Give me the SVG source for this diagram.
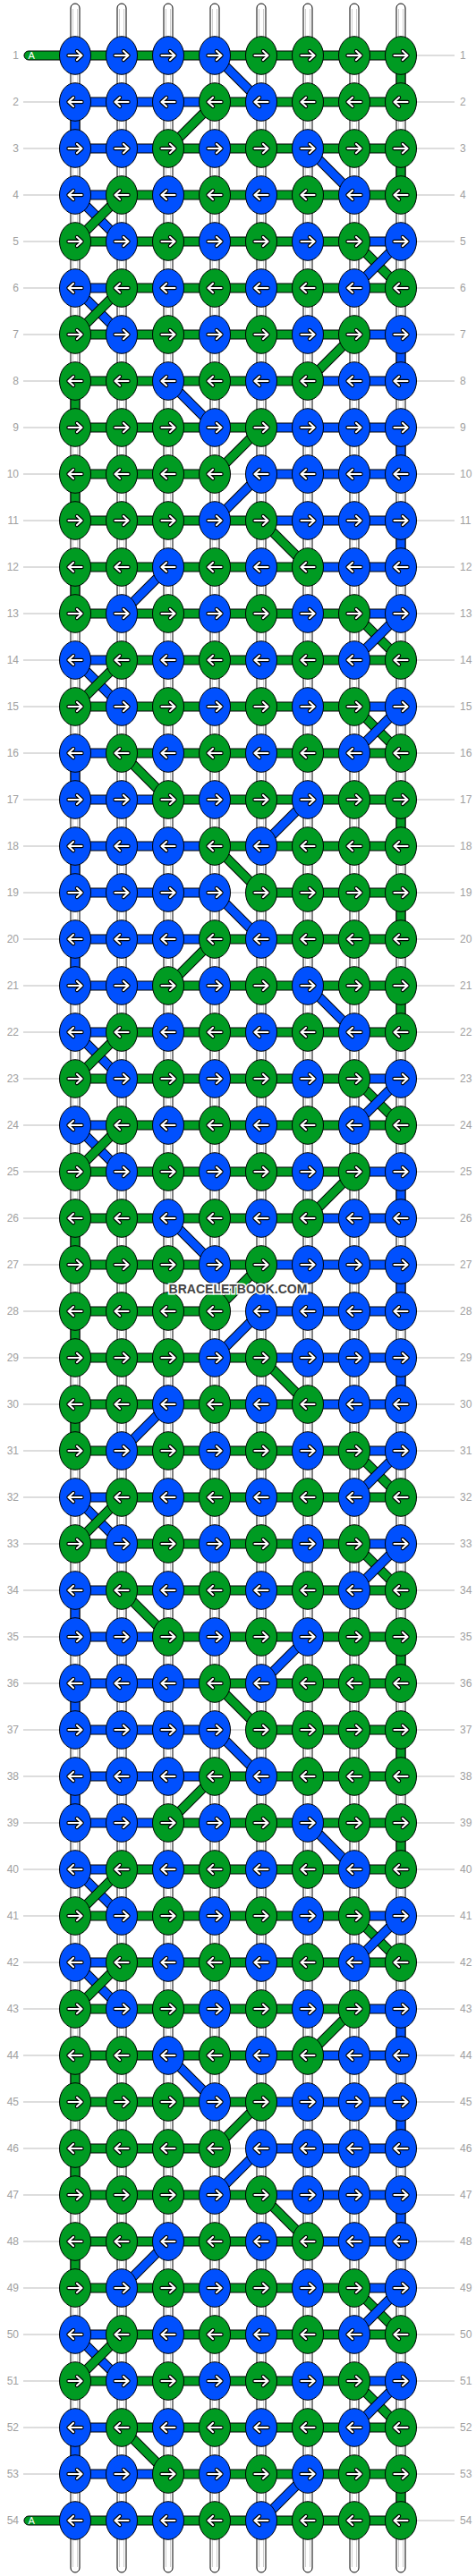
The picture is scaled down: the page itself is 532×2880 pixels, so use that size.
<svg xmlns="http://www.w3.org/2000/svg" xmlns:xlink="http://www.w3.org/1999/xlink" width="532" height="2880" viewBox="0 0 532 2880">
<style>
.rl{stroke:#bbb;stroke-width:1}
.lb{font-family:"Liberation Sans",Arial,sans-serif;font-size:12px;fill:#a0a0a0}
.s{fill:#fff;stroke:#000;stroke-width:1}
.si{stroke:#cfcfcf;stroke-width:1}
.b{fill:#0050fe;stroke:#000;stroke-width:1}
.g{fill:#009b22;stroke:#000;stroke-width:1}
.wm{font-family:"Liberation Sans",Arial,sans-serif;font-size:14px;font-weight:bold;fill:#444;stroke:#fff;stroke-width:3;paint-order:stroke}
</style>
<defs>
<g id="ar" fill="none" stroke-linecap="round" stroke-linejoin="round"><path d="M-7.5 0H7M2-5L7.5 0L2 5" stroke="#000" stroke-width="4.4"/><path d="M-7.5 0H7M2-5L7.5 0L2 5" stroke="#fff" stroke-width="2.2"/></g>
<g id="al"><use href="#ar" transform="scale(-1,1)"/></g>
<g id="BR"><ellipse rx="17.5" ry="21.3" class="b"/><use href="#ar"/></g>
<g id="BL"><ellipse rx="17.5" ry="21.3" class="b"/><use href="#al"/></g>
<g id="GR"><ellipse rx="17.5" ry="21.3" class="g"/><use href="#ar"/></g>
<g id="GL"><ellipse rx="17.5" ry="21.3" class="g"/><use href="#al"/></g>
<rect id="dr" x="0" y="-5" width="73.5" height="10"/>
</defs>
<rect width="532" height="2880" fill="#fff"/>
<g id="rowlines">
<path class="rl" d="M26 62H508M26 114H508M26 166H508M26 218H508M26 270H508M26 322H508M26 374H508M26 426H508M26 478H508M26 530H508M26 582H508M26 634H508M26 686H508M26 738H508M26 790H508M26 842H508M26 894H508M26 946H508M26 998H508M26 1050H508M26 1102H508M26 1154H508M26 1206H508M26 1258H508M26 1310H508M26 1362H508M26 1414H508M26 1466H508M26 1518H508M26 1570H508M26 1622H508M26 1674H508M26 1726H508M26 1778H508M26 1830H508M26 1882H508M26 1934H508M26 1986H508M26 2038H508M26 2090H508M26 2142H508M26 2194H508M26 2246H508M26 2298H508M26 2350H508M26 2402H508M26 2454H508M26 2506H508M26 2558H508M26 2610H508M26 2662H508M26 2714H508M26 2766H508M26 2818H508"/>
</g>
<g id="labels" class="lb">
<g text-anchor="end">
<text x="21" y="66.3">1</text><text x="21" y="118.3">2</text><text x="21" y="170.3">3</text><text x="21" y="222.3">4</text><text x="21" y="274.3">5</text><text x="21" y="326.3">6</text><text x="21" y="378.3">7</text><text x="21" y="430.3">8</text><text x="21" y="482.3">9</text><text x="21" y="534.3">10</text><text x="21" y="586.3">11</text><text x="21" y="638.3">12</text><text x="21" y="690.3">13</text><text x="21" y="742.3">14</text><text x="21" y="794.3">15</text><text x="21" y="846.3">16</text><text x="21" y="898.3">17</text><text x="21" y="950.3">18</text><text x="21" y="1002.3">19</text><text x="21" y="1054.3">20</text><text x="21" y="1106.3">21</text><text x="21" y="1158.3">22</text><text x="21" y="1210.3">23</text><text x="21" y="1262.3">24</text><text x="21" y="1314.3">25</text><text x="21" y="1366.3">26</text><text x="21" y="1418.3">27</text><text x="21" y="1470.3">28</text><text x="21" y="1522.3">29</text><text x="21" y="1574.3">30</text><text x="21" y="1626.3">31</text><text x="21" y="1678.3">32</text><text x="21" y="1730.3">33</text><text x="21" y="1782.3">34</text><text x="21" y="1834.3">35</text><text x="21" y="1886.3">36</text><text x="21" y="1938.3">37</text><text x="21" y="1990.3">38</text><text x="21" y="2042.3">39</text><text x="21" y="2094.3">40</text><text x="21" y="2146.3">41</text><text x="21" y="2198.3">42</text><text x="21" y="2250.3">43</text><text x="21" y="2302.3">44</text><text x="21" y="2354.3">45</text><text x="21" y="2406.3">46</text><text x="21" y="2458.3">47</text><text x="21" y="2510.3">48</text><text x="21" y="2562.3">49</text><text x="21" y="2614.3">50</text><text x="21" y="2666.3">51</text><text x="21" y="2718.3">52</text><text x="21" y="2770.3">53</text><text x="21" y="2822.3">54</text>
</g>
<g>
<text x="514" y="66.3">1</text><text x="514" y="118.3">2</text><text x="514" y="170.3">3</text><text x="514" y="222.3">4</text><text x="514" y="274.3">5</text><text x="514" y="326.3">6</text><text x="514" y="378.3">7</text><text x="514" y="430.3">8</text><text x="514" y="482.3">9</text><text x="514" y="534.3">10</text><text x="514" y="586.3">11</text><text x="514" y="638.3">12</text><text x="514" y="690.3">13</text><text x="514" y="742.3">14</text><text x="514" y="794.3">15</text><text x="514" y="846.3">16</text><text x="514" y="898.3">17</text><text x="514" y="950.3">18</text><text x="514" y="1002.3">19</text><text x="514" y="1054.3">20</text><text x="514" y="1106.3">21</text><text x="514" y="1158.3">22</text><text x="514" y="1210.3">23</text><text x="514" y="1262.3">24</text><text x="514" y="1314.3">25</text><text x="514" y="1366.3">26</text><text x="514" y="1418.3">27</text><text x="514" y="1470.3">28</text><text x="514" y="1522.3">29</text><text x="514" y="1574.3">30</text><text x="514" y="1626.3">31</text><text x="514" y="1678.3">32</text><text x="514" y="1730.3">33</text><text x="514" y="1782.3">34</text><text x="514" y="1834.3">35</text><text x="514" y="1886.3">36</text><text x="514" y="1938.3">37</text><text x="514" y="1990.3">38</text><text x="514" y="2042.3">39</text><text x="514" y="2094.3">40</text><text x="514" y="2146.3">41</text><text x="514" y="2198.3">42</text><text x="514" y="2250.3">43</text><text x="514" y="2302.3">44</text><text x="514" y="2354.3">45</text><text x="514" y="2406.3">46</text><text x="514" y="2458.3">47</text><text x="514" y="2510.3">48</text><text x="514" y="2562.3">49</text><text x="514" y="2614.3">50</text><text x="514" y="2666.3">51</text><text x="514" y="2718.3">52</text><text x="514" y="2770.3">53</text><text x="514" y="2822.3">54</text>
</g>
</g>
<g id="strings">
<rect class="s" x="79" y="4" width="10" height="2872" rx="5"/>
<rect class="s" x="131" y="4" width="10" height="2872" rx="5"/>
<rect class="s" x="183" y="4" width="10" height="2872" rx="5"/>
<rect class="s" x="235" y="4" width="10" height="2872" rx="5"/>
<rect class="s" x="287" y="4" width="10" height="2872" rx="5"/>
<rect class="s" x="339" y="4" width="10" height="2872" rx="5"/>
<rect class="s" x="391" y="4" width="10" height="2872" rx="5"/>
<rect class="s" x="443" y="4" width="10" height="2872" rx="5"/>
<path class="si" d="M81.5 10V2870M86.5 10V2870M133.5 10V2870M138.5 10V2870M185.5 10V2870M190.5 10V2870M237.5 10V2870M242.5 10V2870M289.5 10V2870M294.5 10V2870M341.5 10V2870M346.5 10V2870M393.5 10V2870M398.5 10V2870M445.5 10V2870M450.5 10V2870"/>
</g>
<g id="connectors">
<g id="horizontal">
<rect class="g" x="27" y="57" width="60" height="10" rx="5"/>
<rect class="g" x="84" y="57" width="364" height="10"/>
<rect class="b" x="84" y="109" width="156" height="10"/><rect class="g" x="240" y="109" width="208" height="10"/>
<rect class="b" x="84" y="161" width="104" height="10"/><rect class="g" x="188" y="161" width="260" height="10"/>
<rect class="b" x="84" y="213" width="52" height="10"/><rect class="g" x="136" y="213" width="312" height="10"/>
<rect class="g" x="84" y="265" width="312" height="10"/><rect class="b" x="396" y="265" width="52" height="10"/>
<rect class="b" x="84" y="317" width="52" height="10"/><rect class="g" x="136" y="317" width="312" height="10"/>
<rect class="g" x="84" y="369" width="312" height="10"/><rect class="b" x="396" y="369" width="52" height="10"/>
<rect class="g" x="84" y="421" width="260" height="10"/><rect class="b" x="344" y="421" width="104" height="10"/>
<rect class="g" x="84" y="473" width="208" height="10"/><rect class="b" x="292" y="473" width="156" height="10"/>
<rect class="g" x="84" y="525" width="156" height="10"/><rect class="b" x="292" y="525" width="156" height="10"/>
<rect class="g" x="84" y="577" width="208" height="10"/><rect class="b" x="292" y="577" width="156" height="10"/>
<rect class="g" x="84" y="629" width="260" height="10"/><rect class="b" x="344" y="629" width="104" height="10"/>
<rect class="g" x="84" y="681" width="312" height="10"/><rect class="b" x="396" y="681" width="52" height="10"/>
<rect class="b" x="84" y="733" width="52" height="10"/><rect class="g" x="136" y="733" width="312" height="10"/>
<rect class="g" x="84" y="785" width="312" height="10"/><rect class="b" x="396" y="785" width="52" height="10"/>
<rect class="b" x="84" y="837" width="52" height="10"/><rect class="g" x="136" y="837" width="312" height="10"/>
<rect class="b" x="84" y="889" width="104" height="10"/><rect class="g" x="188" y="889" width="260" height="10"/>
<rect class="b" x="84" y="941" width="156" height="10"/><rect class="g" x="240" y="941" width="208" height="10"/>
<rect class="b" x="84" y="993" width="156" height="10"/><rect class="g" x="292" y="993" width="156" height="10"/>
<rect class="b" x="84" y="1045" width="156" height="10"/><rect class="g" x="240" y="1045" width="208" height="10"/>
<rect class="b" x="84" y="1097" width="104" height="10"/><rect class="g" x="188" y="1097" width="260" height="10"/>
<rect class="b" x="84" y="1149" width="52" height="10"/><rect class="g" x="136" y="1149" width="312" height="10"/>
<rect class="g" x="84" y="1201" width="312" height="10"/><rect class="b" x="396" y="1201" width="52" height="10"/>
<rect class="b" x="84" y="1253" width="52" height="10"/><rect class="g" x="136" y="1253" width="312" height="10"/>
<rect class="g" x="84" y="1305" width="312" height="10"/><rect class="b" x="396" y="1305" width="52" height="10"/>
<rect class="g" x="84" y="1357" width="260" height="10"/><rect class="b" x="344" y="1357" width="104" height="10"/>
<rect class="g" x="84" y="1409" width="208" height="10"/><rect class="b" x="292" y="1409" width="156" height="10"/>
<rect class="g" x="84" y="1461" width="156" height="10"/><rect class="b" x="292" y="1461" width="156" height="10"/>
<rect class="g" x="84" y="1513" width="208" height="10"/><rect class="b" x="292" y="1513" width="156" height="10"/>
<rect class="g" x="84" y="1565" width="260" height="10"/><rect class="b" x="344" y="1565" width="104" height="10"/>
<rect class="g" x="84" y="1617" width="312" height="10"/><rect class="b" x="396" y="1617" width="52" height="10"/>
<rect class="b" x="84" y="1669" width="52" height="10"/><rect class="g" x="136" y="1669" width="312" height="10"/>
<rect class="g" x="84" y="1721" width="312" height="10"/><rect class="b" x="396" y="1721" width="52" height="10"/>
<rect class="b" x="84" y="1773" width="52" height="10"/><rect class="g" x="136" y="1773" width="312" height="10"/>
<rect class="b" x="84" y="1825" width="104" height="10"/><rect class="g" x="188" y="1825" width="260" height="10"/>
<rect class="b" x="84" y="1877" width="156" height="10"/><rect class="g" x="240" y="1877" width="208" height="10"/>
<rect class="b" x="84" y="1929" width="156" height="10"/><rect class="g" x="292" y="1929" width="156" height="10"/>
<rect class="b" x="84" y="1981" width="156" height="10"/><rect class="g" x="240" y="1981" width="208" height="10"/>
<rect class="b" x="84" y="2033" width="104" height="10"/><rect class="g" x="188" y="2033" width="260" height="10"/>
<rect class="b" x="84" y="2085" width="52" height="10"/><rect class="g" x="136" y="2085" width="312" height="10"/>
<rect class="g" x="84" y="2137" width="312" height="10"/><rect class="b" x="396" y="2137" width="52" height="10"/>
<rect class="b" x="84" y="2189" width="52" height="10"/><rect class="g" x="136" y="2189" width="312" height="10"/>
<rect class="g" x="84" y="2241" width="312" height="10"/><rect class="b" x="396" y="2241" width="52" height="10"/>
<rect class="g" x="84" y="2293" width="260" height="10"/><rect class="b" x="344" y="2293" width="104" height="10"/>
<rect class="g" x="84" y="2345" width="208" height="10"/><rect class="b" x="292" y="2345" width="156" height="10"/>
<rect class="g" x="84" y="2397" width="156" height="10"/><rect class="b" x="292" y="2397" width="156" height="10"/>
<rect class="g" x="84" y="2449" width="208" height="10"/><rect class="b" x="292" y="2449" width="156" height="10"/>
<rect class="g" x="84" y="2501" width="260" height="10"/><rect class="b" x="344" y="2501" width="104" height="10"/>
<rect class="g" x="84" y="2553" width="312" height="10"/><rect class="b" x="396" y="2553" width="52" height="10"/>
<rect class="b" x="84" y="2605" width="52" height="10"/><rect class="g" x="136" y="2605" width="312" height="10"/>
<rect class="g" x="84" y="2657" width="312" height="10"/><rect class="b" x="396" y="2657" width="52" height="10"/>
<rect class="b" x="84" y="2709" width="52" height="10"/><rect class="g" x="136" y="2709" width="312" height="10"/>
<rect class="b" x="84" y="2761" width="104" height="10"/><rect class="g" x="188" y="2761" width="260" height="10"/>
<rect class="g" x="27" y="2813" width="60" height="10" rx="5"/>
<rect class="g" x="84" y="2813" width="364" height="10"/>
</g>
<g id="vertical">
<rect class="g" x="443" y="62" width="10" height="52"/>
<rect class="b" x="79" y="114" width="10" height="52"/>
<rect class="g" x="443" y="166" width="10" height="52"/>
<rect class="b" x="443" y="374" width="10" height="52"/>
<rect class="g" x="79" y="426" width="10" height="52"/>
<rect class="b" x="443" y="478" width="10" height="52"/>
<rect class="g" x="79" y="530" width="10" height="52"/>
<rect class="b" x="443" y="582" width="10" height="52"/>
<rect class="g" x="79" y="634" width="10" height="52"/>
<rect class="b" x="79" y="842" width="10" height="52"/>
<rect class="g" x="443" y="894" width="10" height="52"/>
<rect class="b" x="79" y="946" width="10" height="52"/>
<rect class="g" x="443" y="998" width="10" height="52"/>
<rect class="b" x="79" y="1050" width="10" height="52"/>
<rect class="g" x="443" y="1102" width="10" height="52"/>
<rect class="b" x="443" y="1310" width="10" height="52"/>
<rect class="g" x="79" y="1362" width="10" height="52"/>
<rect class="b" x="443" y="1414" width="10" height="52"/>
<rect class="g" x="79" y="1466" width="10" height="52"/>
<rect class="b" x="443" y="1518" width="10" height="52"/>
<rect class="g" x="79" y="1570" width="10" height="52"/>
<rect class="b" x="79" y="1778" width="10" height="52"/>
<rect class="g" x="443" y="1830" width="10" height="52"/>
<rect class="b" x="79" y="1882" width="10" height="52"/>
<rect class="g" x="443" y="1934" width="10" height="52"/>
<rect class="b" x="79" y="1986" width="10" height="52"/>
<rect class="g" x="443" y="2038" width="10" height="52"/>
<rect class="b" x="443" y="2246" width="10" height="52"/>
<rect class="g" x="79" y="2298" width="10" height="52"/>
<rect class="b" x="443" y="2350" width="10" height="52"/>
<rect class="g" x="79" y="2402" width="10" height="52"/>
<rect class="b" x="443" y="2454" width="10" height="52"/>
<rect class="g" x="79" y="2506" width="10" height="52"/>
<rect class="b" x="79" y="2714" width="10" height="52"/>
<rect class="g" x="443" y="2766" width="10" height="52"/>
</g>
<g id="diagonals">
<use href="#dr" class="b" transform="translate(240,62) rotate(45)"/>
<use href="#dr" class="g" transform="translate(240,114) rotate(135)"/>
<use href="#dr" class="b" transform="translate(344,166) rotate(45)"/>
<use href="#dr" class="b" transform="translate(84,218) rotate(45)"/><use href="#dr" class="g" transform="translate(136,218) rotate(135)"/>
<use href="#dr" class="g" transform="translate(396,270) rotate(45)"/><use href="#dr" class="b" transform="translate(448,270) rotate(135)"/>
<use href="#dr" class="b" transform="translate(84,322) rotate(45)"/><use href="#dr" class="g" transform="translate(136,322) rotate(135)"/>
<use href="#dr" class="g" transform="translate(396,374) rotate(135)"/>
<use href="#dr" class="b" transform="translate(188,426) rotate(45)"/>
<use href="#dr" class="g" transform="translate(292,478) rotate(135)"/>
<use href="#dr" class="b" transform="translate(292,530) rotate(135)"/>
<use href="#dr" class="g" transform="translate(292,582) rotate(45)"/>
<use href="#dr" class="b" transform="translate(188,634) rotate(135)"/>
<use href="#dr" class="g" transform="translate(396,686) rotate(45)"/><use href="#dr" class="b" transform="translate(448,686) rotate(135)"/>
<use href="#dr" class="b" transform="translate(84,738) rotate(45)"/><use href="#dr" class="g" transform="translate(136,738) rotate(135)"/>
<use href="#dr" class="g" transform="translate(396,790) rotate(45)"/><use href="#dr" class="b" transform="translate(448,790) rotate(135)"/>
<use href="#dr" class="g" transform="translate(136,842) rotate(45)"/>
<use href="#dr" class="b" transform="translate(344,894) rotate(135)"/>
<use href="#dr" class="g" transform="translate(240,946) rotate(45)"/>
<use href="#dr" class="b" transform="translate(240,998) rotate(45)"/>
<use href="#dr" class="g" transform="translate(240,1050) rotate(135)"/>
<use href="#dr" class="b" transform="translate(344,1102) rotate(45)"/>
<use href="#dr" class="b" transform="translate(84,1154) rotate(45)"/><use href="#dr" class="g" transform="translate(136,1154) rotate(135)"/>
<use href="#dr" class="g" transform="translate(396,1206) rotate(45)"/><use href="#dr" class="b" transform="translate(448,1206) rotate(135)"/>
<use href="#dr" class="b" transform="translate(84,1258) rotate(45)"/><use href="#dr" class="g" transform="translate(136,1258) rotate(135)"/>
<use href="#dr" class="g" transform="translate(396,1310) rotate(135)"/>
<use href="#dr" class="b" transform="translate(188,1362) rotate(45)"/>
<use href="#dr" class="g" transform="translate(292,1414) rotate(135)"/>
<use href="#dr" class="b" transform="translate(292,1466) rotate(135)"/>
<use href="#dr" class="g" transform="translate(292,1518) rotate(45)"/>
<use href="#dr" class="b" transform="translate(188,1570) rotate(135)"/>
<use href="#dr" class="g" transform="translate(396,1622) rotate(45)"/><use href="#dr" class="b" transform="translate(448,1622) rotate(135)"/>
<use href="#dr" class="b" transform="translate(84,1674) rotate(45)"/><use href="#dr" class="g" transform="translate(136,1674) rotate(135)"/>
<use href="#dr" class="g" transform="translate(396,1726) rotate(45)"/><use href="#dr" class="b" transform="translate(448,1726) rotate(135)"/>
<use href="#dr" class="g" transform="translate(136,1778) rotate(45)"/>
<use href="#dr" class="b" transform="translate(344,1830) rotate(135)"/>
<use href="#dr" class="g" transform="translate(240,1882) rotate(45)"/>
<use href="#dr" class="b" transform="translate(240,1934) rotate(45)"/>
<use href="#dr" class="g" transform="translate(240,1986) rotate(135)"/>
<use href="#dr" class="b" transform="translate(344,2038) rotate(45)"/>
<use href="#dr" class="b" transform="translate(84,2090) rotate(45)"/><use href="#dr" class="g" transform="translate(136,2090) rotate(135)"/>
<use href="#dr" class="g" transform="translate(396,2142) rotate(45)"/><use href="#dr" class="b" transform="translate(448,2142) rotate(135)"/>
<use href="#dr" class="b" transform="translate(84,2194) rotate(45)"/><use href="#dr" class="g" transform="translate(136,2194) rotate(135)"/>
<use href="#dr" class="g" transform="translate(396,2246) rotate(135)"/>
<use href="#dr" class="b" transform="translate(188,2298) rotate(45)"/>
<use href="#dr" class="g" transform="translate(292,2350) rotate(135)"/>
<use href="#dr" class="b" transform="translate(292,2402) rotate(135)"/>
<use href="#dr" class="g" transform="translate(292,2454) rotate(45)"/>
<use href="#dr" class="b" transform="translate(188,2506) rotate(135)"/>
<use href="#dr" class="g" transform="translate(396,2558) rotate(45)"/><use href="#dr" class="b" transform="translate(448,2558) rotate(135)"/>
<use href="#dr" class="b" transform="translate(84,2610) rotate(45)"/><use href="#dr" class="g" transform="translate(136,2610) rotate(135)"/>
<use href="#dr" class="g" transform="translate(396,2662) rotate(45)"/><use href="#dr" class="b" transform="translate(448,2662) rotate(135)"/>
<use href="#dr" class="g" transform="translate(136,2714) rotate(45)"/>
<use href="#dr" class="b" transform="translate(344,2766) rotate(135)"/>
</g>
</g>
<g id="knots">
<g transform="translate(0,62)"><g id="k1-1"><use href="#BR" x="84"/></g><g id="k1-2"><use href="#BR" x="136"/></g><g id="k1-3"><use href="#BR" x="188"/></g><g id="k1-4"><use href="#BR" x="240"/></g><g id="k1-5"><use href="#GR" x="292"/></g><g id="k1-6"><use href="#GR" x="344"/></g><g id="k1-7"><use href="#GR" x="396"/></g><g id="k1-8"><use href="#GR" x="448"/></g></g>
<g transform="translate(0,114)"><g id="k2-1"><use href="#BL" x="84"/></g><g id="k2-2"><use href="#BL" x="136"/></g><g id="k2-3"><use href="#BL" x="188"/></g><g id="k2-4"><use href="#GL" x="240"/></g><g id="k2-5"><use href="#BL" x="292"/></g><g id="k2-6"><use href="#GL" x="344"/></g><g id="k2-7"><use href="#GL" x="396"/></g><g id="k2-8"><use href="#GL" x="448"/></g></g>
<g transform="translate(0,166)"><g id="k3-1"><use href="#BR" x="84"/></g><g id="k3-2"><use href="#BR" x="136"/></g><g id="k3-3"><use href="#GR" x="188"/></g><g id="k3-4"><use href="#BR" x="240"/></g><g id="k3-5"><use href="#GR" x="292"/></g><g id="k3-6"><use href="#BR" x="344"/></g><g id="k3-7"><use href="#GR" x="396"/></g><g id="k3-8"><use href="#GR" x="448"/></g></g>
<g transform="translate(0,218)"><g id="k4-1"><use href="#BL" x="84"/></g><g id="k4-2"><use href="#GL" x="136"/></g><g id="k4-3"><use href="#BL" x="188"/></g><g id="k4-4"><use href="#GL" x="240"/></g><g id="k4-5"><use href="#BL" x="292"/></g><g id="k4-6"><use href="#GL" x="344"/></g><g id="k4-7"><use href="#BL" x="396"/></g><g id="k4-8"><use href="#GL" x="448"/></g></g>
<g transform="translate(0,270)"><g id="k5-1"><use href="#GR" x="84"/></g><g id="k5-2"><use href="#BR" x="136"/></g><g id="k5-3"><use href="#GR" x="188"/></g><g id="k5-4"><use href="#BR" x="240"/></g><g id="k5-5"><use href="#GR" x="292"/></g><g id="k5-6"><use href="#BR" x="344"/></g><g id="k5-7"><use href="#GR" x="396"/></g><g id="k5-8"><use href="#BR" x="448"/></g></g>
<g transform="translate(0,322)"><g id="k6-1"><use href="#BL" x="84"/></g><g id="k6-2"><use href="#GL" x="136"/></g><g id="k6-3"><use href="#BL" x="188"/></g><g id="k6-4"><use href="#GL" x="240"/></g><g id="k6-5"><use href="#BL" x="292"/></g><g id="k6-6"><use href="#GL" x="344"/></g><g id="k6-7"><use href="#BL" x="396"/></g><g id="k6-8"><use href="#GL" x="448"/></g></g>
<g transform="translate(0,374)"><g id="k7-1"><use href="#GR" x="84"/></g><g id="k7-2"><use href="#BR" x="136"/></g><g id="k7-3"><use href="#GR" x="188"/></g><g id="k7-4"><use href="#BR" x="240"/></g><g id="k7-5"><use href="#GR" x="292"/></g><g id="k7-6"><use href="#BR" x="344"/></g><g id="k7-7"><use href="#GR" x="396"/></g><g id="k7-8"><use href="#BR" x="448"/></g></g>
<g transform="translate(0,426)"><g id="k8-1"><use href="#GL" x="84"/></g><g id="k8-2"><use href="#GL" x="136"/></g><g id="k8-3"><use href="#BL" x="188"/></g><g id="k8-4"><use href="#GL" x="240"/></g><g id="k8-5"><use href="#BL" x="292"/></g><g id="k8-6"><use href="#GL" x="344"/></g><g id="k8-7"><use href="#BL" x="396"/></g><g id="k8-8"><use href="#BL" x="448"/></g></g>
<g transform="translate(0,478)"><g id="k9-1"><use href="#GR" x="84"/></g><g id="k9-2"><use href="#GR" x="136"/></g><g id="k9-3"><use href="#GR" x="188"/></g><g id="k9-4"><use href="#BR" x="240"/></g><g id="k9-5"><use href="#GR" x="292"/></g><g id="k9-6"><use href="#BR" x="344"/></g><g id="k9-7"><use href="#BR" x="396"/></g><g id="k9-8"><use href="#BR" x="448"/></g></g>
<g transform="translate(0,530)"><g id="k10-1"><use href="#GL" x="84"/></g><g id="k10-2"><use href="#GL" x="136"/></g><g id="k10-3"><use href="#GL" x="188"/></g><g id="k10-4"><use href="#GL" x="240"/></g><g id="k10-5"><use href="#BL" x="292"/></g><g id="k10-6"><use href="#BL" x="344"/></g><g id="k10-7"><use href="#BL" x="396"/></g><g id="k10-8"><use href="#BL" x="448"/></g></g>
<g transform="translate(0,582)"><g id="k11-1"><use href="#GR" x="84"/></g><g id="k11-2"><use href="#GR" x="136"/></g><g id="k11-3"><use href="#GR" x="188"/></g><g id="k11-4"><use href="#BR" x="240"/></g><g id="k11-5"><use href="#GR" x="292"/></g><g id="k11-6"><use href="#BR" x="344"/></g><g id="k11-7"><use href="#BR" x="396"/></g><g id="k11-8"><use href="#BR" x="448"/></g></g>
<g transform="translate(0,634)"><g id="k12-1"><use href="#GL" x="84"/></g><g id="k12-2"><use href="#GL" x="136"/></g><g id="k12-3"><use href="#BL" x="188"/></g><g id="k12-4"><use href="#GL" x="240"/></g><g id="k12-5"><use href="#BL" x="292"/></g><g id="k12-6"><use href="#GL" x="344"/></g><g id="k12-7"><use href="#BL" x="396"/></g><g id="k12-8"><use href="#BL" x="448"/></g></g>
<g transform="translate(0,686)"><g id="k13-1"><use href="#GR" x="84"/></g><g id="k13-2"><use href="#BR" x="136"/></g><g id="k13-3"><use href="#GR" x="188"/></g><g id="k13-4"><use href="#BR" x="240"/></g><g id="k13-5"><use href="#GR" x="292"/></g><g id="k13-6"><use href="#BR" x="344"/></g><g id="k13-7"><use href="#GR" x="396"/></g><g id="k13-8"><use href="#BR" x="448"/></g></g>
<g transform="translate(0,738)"><g id="k14-1"><use href="#BL" x="84"/></g><g id="k14-2"><use href="#GL" x="136"/></g><g id="k14-3"><use href="#BL" x="188"/></g><g id="k14-4"><use href="#GL" x="240"/></g><g id="k14-5"><use href="#BL" x="292"/></g><g id="k14-6"><use href="#GL" x="344"/></g><g id="k14-7"><use href="#BL" x="396"/></g><g id="k14-8"><use href="#GL" x="448"/></g></g>
<g transform="translate(0,790)"><g id="k15-1"><use href="#GR" x="84"/></g><g id="k15-2"><use href="#BR" x="136"/></g><g id="k15-3"><use href="#GR" x="188"/></g><g id="k15-4"><use href="#BR" x="240"/></g><g id="k15-5"><use href="#GR" x="292"/></g><g id="k15-6"><use href="#BR" x="344"/></g><g id="k15-7"><use href="#GR" x="396"/></g><g id="k15-8"><use href="#BR" x="448"/></g></g>
<g transform="translate(0,842)"><g id="k16-1"><use href="#BL" x="84"/></g><g id="k16-2"><use href="#GL" x="136"/></g><g id="k16-3"><use href="#BL" x="188"/></g><g id="k16-4"><use href="#GL" x="240"/></g><g id="k16-5"><use href="#BL" x="292"/></g><g id="k16-6"><use href="#GL" x="344"/></g><g id="k16-7"><use href="#BL" x="396"/></g><g id="k16-8"><use href="#GL" x="448"/></g></g>
<g transform="translate(0,894)"><g id="k17-1"><use href="#BR" x="84"/></g><g id="k17-2"><use href="#BR" x="136"/></g><g id="k17-3"><use href="#GR" x="188"/></g><g id="k17-4"><use href="#BR" x="240"/></g><g id="k17-5"><use href="#GR" x="292"/></g><g id="k17-6"><use href="#BR" x="344"/></g><g id="k17-7"><use href="#GR" x="396"/></g><g id="k17-8"><use href="#GR" x="448"/></g></g>
<g transform="translate(0,946)"><g id="k18-1"><use href="#BL" x="84"/></g><g id="k18-2"><use href="#BL" x="136"/></g><g id="k18-3"><use href="#BL" x="188"/></g><g id="k18-4"><use href="#GL" x="240"/></g><g id="k18-5"><use href="#BL" x="292"/></g><g id="k18-6"><use href="#GL" x="344"/></g><g id="k18-7"><use href="#GL" x="396"/></g><g id="k18-8"><use href="#GL" x="448"/></g></g>
<g transform="translate(0,998)"><g id="k19-1"><use href="#BR" x="84"/></g><g id="k19-2"><use href="#BR" x="136"/></g><g id="k19-3"><use href="#BR" x="188"/></g><g id="k19-4"><use href="#BR" x="240"/></g><g id="k19-5"><use href="#GR" x="292"/></g><g id="k19-6"><use href="#GR" x="344"/></g><g id="k19-7"><use href="#GR" x="396"/></g><g id="k19-8"><use href="#GR" x="448"/></g></g>
<g transform="translate(0,1050)"><g id="k20-1"><use href="#BL" x="84"/></g><g id="k20-2"><use href="#BL" x="136"/></g><g id="k20-3"><use href="#BL" x="188"/></g><g id="k20-4"><use href="#GL" x="240"/></g><g id="k20-5"><use href="#BL" x="292"/></g><g id="k20-6"><use href="#GL" x="344"/></g><g id="k20-7"><use href="#GL" x="396"/></g><g id="k20-8"><use href="#GL" x="448"/></g></g>
<g transform="translate(0,1102)"><g id="k21-1"><use href="#BR" x="84"/></g><g id="k21-2"><use href="#BR" x="136"/></g><g id="k21-3"><use href="#GR" x="188"/></g><g id="k21-4"><use href="#BR" x="240"/></g><g id="k21-5"><use href="#GR" x="292"/></g><g id="k21-6"><use href="#BR" x="344"/></g><g id="k21-7"><use href="#GR" x="396"/></g><g id="k21-8"><use href="#GR" x="448"/></g></g>
<g transform="translate(0,1154)"><g id="k22-1"><use href="#BL" x="84"/></g><g id="k22-2"><use href="#GL" x="136"/></g><g id="k22-3"><use href="#BL" x="188"/></g><g id="k22-4"><use href="#GL" x="240"/></g><g id="k22-5"><use href="#BL" x="292"/></g><g id="k22-6"><use href="#GL" x="344"/></g><g id="k22-7"><use href="#BL" x="396"/></g><g id="k22-8"><use href="#GL" x="448"/></g></g>
<g transform="translate(0,1206)"><g id="k23-1"><use href="#GR" x="84"/></g><g id="k23-2"><use href="#BR" x="136"/></g><g id="k23-3"><use href="#GR" x="188"/></g><g id="k23-4"><use href="#BR" x="240"/></g><g id="k23-5"><use href="#GR" x="292"/></g><g id="k23-6"><use href="#BR" x="344"/></g><g id="k23-7"><use href="#GR" x="396"/></g><g id="k23-8"><use href="#BR" x="448"/></g></g>
<g transform="translate(0,1258)"><g id="k24-1"><use href="#BL" x="84"/></g><g id="k24-2"><use href="#GL" x="136"/></g><g id="k24-3"><use href="#BL" x="188"/></g><g id="k24-4"><use href="#GL" x="240"/></g><g id="k24-5"><use href="#BL" x="292"/></g><g id="k24-6"><use href="#GL" x="344"/></g><g id="k24-7"><use href="#BL" x="396"/></g><g id="k24-8"><use href="#GL" x="448"/></g></g>
<g transform="translate(0,1310)"><g id="k25-1"><use href="#GR" x="84"/></g><g id="k25-2"><use href="#BR" x="136"/></g><g id="k25-3"><use href="#GR" x="188"/></g><g id="k25-4"><use href="#BR" x="240"/></g><g id="k25-5"><use href="#GR" x="292"/></g><g id="k25-6"><use href="#BR" x="344"/></g><g id="k25-7"><use href="#GR" x="396"/></g><g id="k25-8"><use href="#BR" x="448"/></g></g>
<g transform="translate(0,1362)"><g id="k26-1"><use href="#GL" x="84"/></g><g id="k26-2"><use href="#GL" x="136"/></g><g id="k26-3"><use href="#BL" x="188"/></g><g id="k26-4"><use href="#GL" x="240"/></g><g id="k26-5"><use href="#BL" x="292"/></g><g id="k26-6"><use href="#GL" x="344"/></g><g id="k26-7"><use href="#BL" x="396"/></g><g id="k26-8"><use href="#BL" x="448"/></g></g>
<g transform="translate(0,1414)"><g id="k27-1"><use href="#GR" x="84"/></g><g id="k27-2"><use href="#GR" x="136"/></g><g id="k27-3"><use href="#GR" x="188"/></g><g id="k27-4"><use href="#BR" x="240"/></g><g id="k27-5"><use href="#GR" x="292"/></g><g id="k27-6"><use href="#BR" x="344"/></g><g id="k27-7"><use href="#BR" x="396"/></g><g id="k27-8"><use href="#BR" x="448"/></g></g>
<g transform="translate(0,1466)"><g id="k28-1"><use href="#GL" x="84"/></g><g id="k28-2"><use href="#GL" x="136"/></g><g id="k28-3"><use href="#GL" x="188"/></g><g id="k28-4"><use href="#GL" x="240"/></g><g id="k28-5"><use href="#BL" x="292"/></g><g id="k28-6"><use href="#BL" x="344"/></g><g id="k28-7"><use href="#BL" x="396"/></g><g id="k28-8"><use href="#BL" x="448"/></g></g>
<g transform="translate(0,1518)"><g id="k29-1"><use href="#GR" x="84"/></g><g id="k29-2"><use href="#GR" x="136"/></g><g id="k29-3"><use href="#GR" x="188"/></g><g id="k29-4"><use href="#BR" x="240"/></g><g id="k29-5"><use href="#GR" x="292"/></g><g id="k29-6"><use href="#BR" x="344"/></g><g id="k29-7"><use href="#BR" x="396"/></g><g id="k29-8"><use href="#BR" x="448"/></g></g>
<g transform="translate(0,1570)"><g id="k30-1"><use href="#GL" x="84"/></g><g id="k30-2"><use href="#GL" x="136"/></g><g id="k30-3"><use href="#BL" x="188"/></g><g id="k30-4"><use href="#GL" x="240"/></g><g id="k30-5"><use href="#BL" x="292"/></g><g id="k30-6"><use href="#GL" x="344"/></g><g id="k30-7"><use href="#BL" x="396"/></g><g id="k30-8"><use href="#BL" x="448"/></g></g>
<g transform="translate(0,1622)"><g id="k31-1"><use href="#GR" x="84"/></g><g id="k31-2"><use href="#BR" x="136"/></g><g id="k31-3"><use href="#GR" x="188"/></g><g id="k31-4"><use href="#BR" x="240"/></g><g id="k31-5"><use href="#GR" x="292"/></g><g id="k31-6"><use href="#BR" x="344"/></g><g id="k31-7"><use href="#GR" x="396"/></g><g id="k31-8"><use href="#BR" x="448"/></g></g>
<g transform="translate(0,1674)"><g id="k32-1"><use href="#BL" x="84"/></g><g id="k32-2"><use href="#GL" x="136"/></g><g id="k32-3"><use href="#BL" x="188"/></g><g id="k32-4"><use href="#GL" x="240"/></g><g id="k32-5"><use href="#BL" x="292"/></g><g id="k32-6"><use href="#GL" x="344"/></g><g id="k32-7"><use href="#BL" x="396"/></g><g id="k32-8"><use href="#GL" x="448"/></g></g>
<g transform="translate(0,1726)"><g id="k33-1"><use href="#GR" x="84"/></g><g id="k33-2"><use href="#BR" x="136"/></g><g id="k33-3"><use href="#GR" x="188"/></g><g id="k33-4"><use href="#BR" x="240"/></g><g id="k33-5"><use href="#GR" x="292"/></g><g id="k33-6"><use href="#BR" x="344"/></g><g id="k33-7"><use href="#GR" x="396"/></g><g id="k33-8"><use href="#BR" x="448"/></g></g>
<g transform="translate(0,1778)"><g id="k34-1"><use href="#BL" x="84"/></g><g id="k34-2"><use href="#GL" x="136"/></g><g id="k34-3"><use href="#BL" x="188"/></g><g id="k34-4"><use href="#GL" x="240"/></g><g id="k34-5"><use href="#BL" x="292"/></g><g id="k34-6"><use href="#GL" x="344"/></g><g id="k34-7"><use href="#BL" x="396"/></g><g id="k34-8"><use href="#GL" x="448"/></g></g>
<g transform="translate(0,1830)"><g id="k35-1"><use href="#BR" x="84"/></g><g id="k35-2"><use href="#BR" x="136"/></g><g id="k35-3"><use href="#GR" x="188"/></g><g id="k35-4"><use href="#BR" x="240"/></g><g id="k35-5"><use href="#GR" x="292"/></g><g id="k35-6"><use href="#BR" x="344"/></g><g id="k35-7"><use href="#GR" x="396"/></g><g id="k35-8"><use href="#GR" x="448"/></g></g>
<g transform="translate(0,1882)"><g id="k36-1"><use href="#BL" x="84"/></g><g id="k36-2"><use href="#BL" x="136"/></g><g id="k36-3"><use href="#BL" x="188"/></g><g id="k36-4"><use href="#GL" x="240"/></g><g id="k36-5"><use href="#BL" x="292"/></g><g id="k36-6"><use href="#GL" x="344"/></g><g id="k36-7"><use href="#GL" x="396"/></g><g id="k36-8"><use href="#GL" x="448"/></g></g>
<g transform="translate(0,1934)"><g id="k37-1"><use href="#BR" x="84"/></g><g id="k37-2"><use href="#BR" x="136"/></g><g id="k37-3"><use href="#BR" x="188"/></g><g id="k37-4"><use href="#BR" x="240"/></g><g id="k37-5"><use href="#GR" x="292"/></g><g id="k37-6"><use href="#GR" x="344"/></g><g id="k37-7"><use href="#GR" x="396"/></g><g id="k37-8"><use href="#GR" x="448"/></g></g>
<g transform="translate(0,1986)"><g id="k38-1"><use href="#BL" x="84"/></g><g id="k38-2"><use href="#BL" x="136"/></g><g id="k38-3"><use href="#BL" x="188"/></g><g id="k38-4"><use href="#GL" x="240"/></g><g id="k38-5"><use href="#BL" x="292"/></g><g id="k38-6"><use href="#GL" x="344"/></g><g id="k38-7"><use href="#GL" x="396"/></g><g id="k38-8"><use href="#GL" x="448"/></g></g>
<g transform="translate(0,2038)"><g id="k39-1"><use href="#BR" x="84"/></g><g id="k39-2"><use href="#BR" x="136"/></g><g id="k39-3"><use href="#GR" x="188"/></g><g id="k39-4"><use href="#BR" x="240"/></g><g id="k39-5"><use href="#GR" x="292"/></g><g id="k39-6"><use href="#BR" x="344"/></g><g id="k39-7"><use href="#GR" x="396"/></g><g id="k39-8"><use href="#GR" x="448"/></g></g>
<g transform="translate(0,2090)"><g id="k40-1"><use href="#BL" x="84"/></g><g id="k40-2"><use href="#GL" x="136"/></g><g id="k40-3"><use href="#BL" x="188"/></g><g id="k40-4"><use href="#GL" x="240"/></g><g id="k40-5"><use href="#BL" x="292"/></g><g id="k40-6"><use href="#GL" x="344"/></g><g id="k40-7"><use href="#BL" x="396"/></g><g id="k40-8"><use href="#GL" x="448"/></g></g>
<g transform="translate(0,2142)"><g id="k41-1"><use href="#GR" x="84"/></g><g id="k41-2"><use href="#BR" x="136"/></g><g id="k41-3"><use href="#GR" x="188"/></g><g id="k41-4"><use href="#BR" x="240"/></g><g id="k41-5"><use href="#GR" x="292"/></g><g id="k41-6"><use href="#BR" x="344"/></g><g id="k41-7"><use href="#GR" x="396"/></g><g id="k41-8"><use href="#BR" x="448"/></g></g>
<g transform="translate(0,2194)"><g id="k42-1"><use href="#BL" x="84"/></g><g id="k42-2"><use href="#GL" x="136"/></g><g id="k42-3"><use href="#BL" x="188"/></g><g id="k42-4"><use href="#GL" x="240"/></g><g id="k42-5"><use href="#BL" x="292"/></g><g id="k42-6"><use href="#GL" x="344"/></g><g id="k42-7"><use href="#BL" x="396"/></g><g id="k42-8"><use href="#GL" x="448"/></g></g>
<g transform="translate(0,2246)"><g id="k43-1"><use href="#GR" x="84"/></g><g id="k43-2"><use href="#BR" x="136"/></g><g id="k43-3"><use href="#GR" x="188"/></g><g id="k43-4"><use href="#BR" x="240"/></g><g id="k43-5"><use href="#GR" x="292"/></g><g id="k43-6"><use href="#BR" x="344"/></g><g id="k43-7"><use href="#GR" x="396"/></g><g id="k43-8"><use href="#BR" x="448"/></g></g>
<g transform="translate(0,2298)"><g id="k44-1"><use href="#GL" x="84"/></g><g id="k44-2"><use href="#GL" x="136"/></g><g id="k44-3"><use href="#BL" x="188"/></g><g id="k44-4"><use href="#GL" x="240"/></g><g id="k44-5"><use href="#BL" x="292"/></g><g id="k44-6"><use href="#GL" x="344"/></g><g id="k44-7"><use href="#BL" x="396"/></g><g id="k44-8"><use href="#BL" x="448"/></g></g>
<g transform="translate(0,2350)"><g id="k45-1"><use href="#GR" x="84"/></g><g id="k45-2"><use href="#GR" x="136"/></g><g id="k45-3"><use href="#GR" x="188"/></g><g id="k45-4"><use href="#BR" x="240"/></g><g id="k45-5"><use href="#GR" x="292"/></g><g id="k45-6"><use href="#BR" x="344"/></g><g id="k45-7"><use href="#BR" x="396"/></g><g id="k45-8"><use href="#BR" x="448"/></g></g>
<g transform="translate(0,2402)"><g id="k46-1"><use href="#GL" x="84"/></g><g id="k46-2"><use href="#GL" x="136"/></g><g id="k46-3"><use href="#GL" x="188"/></g><g id="k46-4"><use href="#GL" x="240"/></g><g id="k46-5"><use href="#BL" x="292"/></g><g id="k46-6"><use href="#BL" x="344"/></g><g id="k46-7"><use href="#BL" x="396"/></g><g id="k46-8"><use href="#BL" x="448"/></g></g>
<g transform="translate(0,2454)"><g id="k47-1"><use href="#GR" x="84"/></g><g id="k47-2"><use href="#GR" x="136"/></g><g id="k47-3"><use href="#GR" x="188"/></g><g id="k47-4"><use href="#BR" x="240"/></g><g id="k47-5"><use href="#GR" x="292"/></g><g id="k47-6"><use href="#BR" x="344"/></g><g id="k47-7"><use href="#BR" x="396"/></g><g id="k47-8"><use href="#BR" x="448"/></g></g>
<g transform="translate(0,2506)"><g id="k48-1"><use href="#GL" x="84"/></g><g id="k48-2"><use href="#GL" x="136"/></g><g id="k48-3"><use href="#BL" x="188"/></g><g id="k48-4"><use href="#GL" x="240"/></g><g id="k48-5"><use href="#BL" x="292"/></g><g id="k48-6"><use href="#GL" x="344"/></g><g id="k48-7"><use href="#BL" x="396"/></g><g id="k48-8"><use href="#BL" x="448"/></g></g>
<g transform="translate(0,2558)"><g id="k49-1"><use href="#GR" x="84"/></g><g id="k49-2"><use href="#BR" x="136"/></g><g id="k49-3"><use href="#GR" x="188"/></g><g id="k49-4"><use href="#BR" x="240"/></g><g id="k49-5"><use href="#GR" x="292"/></g><g id="k49-6"><use href="#BR" x="344"/></g><g id="k49-7"><use href="#GR" x="396"/></g><g id="k49-8"><use href="#BR" x="448"/></g></g>
<g transform="translate(0,2610)"><g id="k50-1"><use href="#BL" x="84"/></g><g id="k50-2"><use href="#GL" x="136"/></g><g id="k50-3"><use href="#BL" x="188"/></g><g id="k50-4"><use href="#GL" x="240"/></g><g id="k50-5"><use href="#BL" x="292"/></g><g id="k50-6"><use href="#GL" x="344"/></g><g id="k50-7"><use href="#BL" x="396"/></g><g id="k50-8"><use href="#GL" x="448"/></g></g>
<g transform="translate(0,2662)"><g id="k51-1"><use href="#GR" x="84"/></g><g id="k51-2"><use href="#BR" x="136"/></g><g id="k51-3"><use href="#GR" x="188"/></g><g id="k51-4"><use href="#BR" x="240"/></g><g id="k51-5"><use href="#GR" x="292"/></g><g id="k51-6"><use href="#BR" x="344"/></g><g id="k51-7"><use href="#GR" x="396"/></g><g id="k51-8"><use href="#BR" x="448"/></g></g>
<g transform="translate(0,2714)"><g id="k52-1"><use href="#BL" x="84"/></g><g id="k52-2"><use href="#GL" x="136"/></g><g id="k52-3"><use href="#BL" x="188"/></g><g id="k52-4"><use href="#GL" x="240"/></g><g id="k52-5"><use href="#BL" x="292"/></g><g id="k52-6"><use href="#GL" x="344"/></g><g id="k52-7"><use href="#BL" x="396"/></g><g id="k52-8"><use href="#GL" x="448"/></g></g>
<g transform="translate(0,2766)"><g id="k53-1"><use href="#BR" x="84"/></g><g id="k53-2"><use href="#BR" x="136"/></g><g id="k53-3"><use href="#GR" x="188"/></g><g id="k53-4"><use href="#BR" x="240"/></g><g id="k53-5"><use href="#GR" x="292"/></g><g id="k53-6"><use href="#BR" x="344"/></g><g id="k53-7"><use href="#GR" x="396"/></g><g id="k53-8"><use href="#GR" x="448"/></g></g>
<g transform="translate(0,2818)"><g id="k54-1"><use href="#BL" x="84"/></g><g id="k54-2"><use href="#BL" x="136"/></g><g id="k54-3"><use href="#BL" x="188"/></g><g id="k54-4"><use href="#GL" x="240"/></g><g id="k54-5"><use href="#BL" x="292"/></g><g id="k54-6"><use href="#GL" x="344"/></g><g id="k54-7"><use href="#GL" x="396"/></g><g id="k54-8"><use href="#GL" x="448"/></g></g>
</g>
<g id="tail-labels" font-family="'Liberation Sans',Arial,sans-serif" font-size="11" fill="#fff">
<text x="31.5" y="66">A</text>
<text x="31.5" y="2822">A</text>
</g>
<text class="wm" x="266" y="1445.5" text-anchor="middle">BRACELETBOOK.COM</text>
</svg>
